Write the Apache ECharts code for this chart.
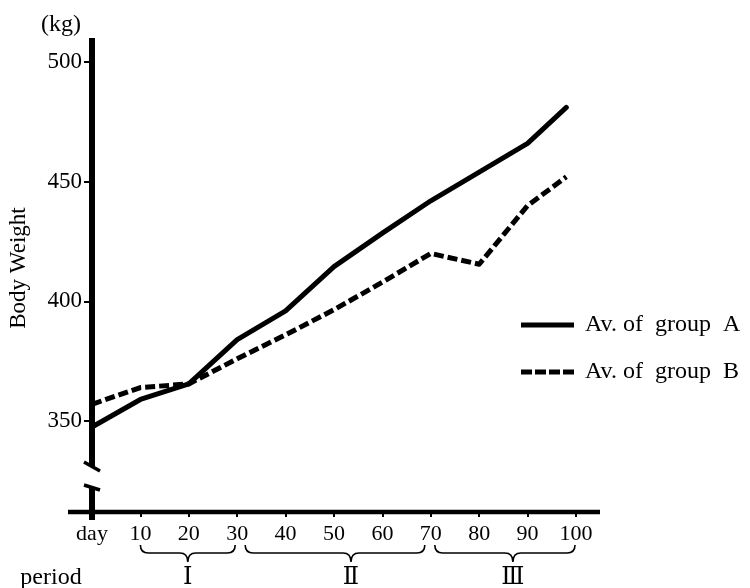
<!DOCTYPE html>
<html>
<head>
<meta charset="utf-8">
<script src="https://cdn.jsdelivr.net/npm/echarts@6/dist/echarts.min.js"></script>
<style>
html,body{margin:0;padding:0;background:#fff;}
#c{width:750px;height:588px;}
</style>
</head>
<body>
<div id="c"></div>
<script>
var days = [0, 10, 20, 30, 40, 50, 60, 70, 80, 90, 98];
var groupA = [347.5, 359, 365.5, 384, 396, 414.5, 428.5, 442, 454, 466, 481];
var groupB = [357, 364, 365.5, 376, 386, 396.5, 408, 420, 415.5, 440, 452];
var seriesNames = ['Av. of  group  A', 'Av. of  group  B'];
var yTicks = [350, 400, 450, 500];
var periodNames = ['\u2160', '\u2161', '\u2162'];
var periodStart = [10, 30, 70];
var periodEnd = [30, 70, 100];

var FONT = "'Liberation Serif', 'DejaVu Serif', serif";
var chart = echarts.init(document.getElementById('c'));

function pairs(xs, ys) { return xs.map(function (x, i) { return [x, ys[i]]; }); }

chart.setOption({
  animation: false,
  backgroundColor: '#fff',
  grid: { left: 92, right: 174, top: 38, bottom: 76, containLabel: false },
  xAxis: {
    type: 'value', min: 0, max: 100, interval: 10,
    axisLine: { show: false },
    axisTick: { show: true, length: 5, lineStyle: { color: '#000', width: 2 } },
    splitLine: { show: false },
    axisLabel: {
      color: '#000', fontSize: 22, fontFamily: FONT, margin: 11,
      formatter: function (v) { return v === 0 ? 'day' : String(v); }
    }
  },
  yAxis: {
    type: 'value', min: 312, max: 510,
    axisLine: { show: false },
    axisTick: { show: true, length: 8, customValues: yTicks, lineStyle: { color: '#000', width: 2 } },
    splitLine: { show: false },
    axisLabel: { color: '#000', fontSize: 23, fontFamily: FONT, margin: 10, customValues: yTicks }
  },
  legend: {
    orient: 'vertical', left: 516, top: 308, itemWidth: 53, itemHeight: 5, itemGap: 23,
    textStyle: { color: '#000', fontSize: 24, fontFamily: FONT, padding: [0, 0, 0, 6] },
    data: [
      { name: seriesNames[0], icon: 'path://M0,0h53v5h-53z' },
      { name: seriesNames[1], icon: 'path://M0,0h11v5h-11z M14,0h11v5h-11z M28,0h11v5h-11z M42,0h11v5h-11z' }
    ],
    itemStyle: { color: '#000' }
  },
  series: [
    {
      name: seriesNames[0], type: 'line', data: pairs(days, groupA), symbol: 'none', showSymbol: false,
      lineStyle: { color: '#000', width: 5, type: 'solid', cap: 'round', join: 'round' },
      itemStyle: { color: '#000' }
    },
    {
      name: seriesNames[1], type: 'line', data: pairs(days, groupB), symbol: 'none', showSymbol: false,
      lineStyle: { color: '#000', width: 5, type: [10, 4], join: 'round' },
      itemStyle: { color: '#000' }
    }
  ]
});

var p0 = chart.convertToPixel({ gridIndex: 0 }, [0, 312]);
var pTop = chart.convertToPixel({ gridIndex: 0 }, [0, 510]);
var pEnd = chart.convertToPixel({ gridIndex: 0 }, [100, 312]);
var x0 = p0[0], yBottom = p0[1], xEnd = pEnd[0];
var yTop = pTop[1];

var zr = chart.getZr();
var G = echarts.graphic;
function add(el) { try { zr.add(el); } catch (e) { console.error(e); } }
function ln(x1, y1, x2, y2, w) {
  add(new G.Line({ shape: { x1: x1, y1: y1, x2: x2, y2: y2 }, style: { stroke: '#000', lineWidth: w }, z: 100 }));
}
function vbar(x, y1, y2, w) {
  add(new G.Rect({ shape: { x: x - w / 2, y: y1, width: w, height: y2 - y1 }, style: { fill: '#000' }, z: 100 }));
}
function tx(str, x, y, size, rot) {
  add(new G.Text({ x: x, y: y, rotation: rot || 0, style: { text: str, fontSize: size, fontFamily: FONT, fill: '#000', align: 'center', verticalAlign: 'middle' }, z: 100 }));
}
// y axis with break
vbar(x0, yTop, yBottom - 46, 6);
ln(x0 - 8, yBottom - 50, x0 + 8, yBottom - 41, 3.5);
vbar(x0, yBottom - 25, yBottom + 8, 6);
ln(x0 - 8, yBottom - 27, x0 + 8, yBottom - 22, 3.5);
// x axis
ln(x0 - 24, yBottom, xEnd + 24, yBottom, 4.5);

tx('(kg)', 61, 25, 24);
tx('Body Weight', 19, 268, 23, Math.PI / 2);
tx('period', 51, 578, 24);

// braces
var tipShift = [0, 16, 8];
var insetL = [0, 8, 4], insetR = [2, 6, 1];
for (var i = 0; i < periodNames.length; i++) {
  var xa = chart.convertToPixel({ gridIndex: 0 }, [periodStart[i], 312])[0] + insetL[i];
  var xb = chart.convertToPixel({ gridIndex: 0 }, [periodEnd[i], 312])[0] - insetR[i];
  var xt = (xa + xb) / 2 + tipShift[i];
  var y0 = yBottom + 33, y1 = yBottom + 41, y2 = yBottom + 50, r = 8;
  var d = 'M' + xa + ' ' + y0 + ' Q' + xa + ' ' + y1 + ' ' + (xa + r) + ' ' + y1 +
    ' L' + (xt - r) + ' ' + y1 + ' Q' + xt + ' ' + y1 + ' ' + xt + ' ' + y2 +
    ' Q' + xt + ' ' + y1 + ' ' + (xt + r) + ' ' + y1 +
    ' L' + (xb - r) + ' ' + y1 + ' Q' + xb + ' ' + y1 + ' ' + xb + ' ' + y0;
  try {
    var p = G.makePath(d, { style: { stroke: '#000', lineWidth: 1.6, fill: 'none' }, z: 100 });
    add(p);
  } catch (e) { console.error(e); }
  tx(periodNames[i], xt, yBottom + 66, 24);
}
</script>
</body>
</html>
